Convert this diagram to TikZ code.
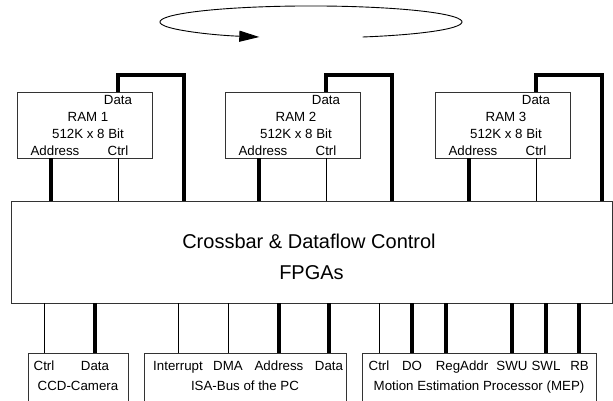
\documentclass[tikz,border=0pt]{standalone}
\usepackage{fontspec}
\setmainfont{Liberation Sans}
\usetikzlibrary{arrows.meta}
\begin{document}
\begin{tikzpicture}[x=1pt,y=-1pt,
  box/.style={draw=black!80, line width=0.9pt, inner sep=0pt, outer sep=0pt},
  bus/.style={line width=3.6pt, line join=miter, line cap=butt},
  sig/.style={line width=0.9pt},
  lbl/.style={anchor=base, inner sep=0pt, font=\fontsize{13.3}{16}\selectfont},
  big/.style={anchor=base, inner sep=0pt, font=\fontsize{20}{24}\selectfont}]
\useasboundingbox (0,0) rectangle (613,401);
\clip (0,0) rectangle (613,401);

% rotation loop
\draw[line width=0.9pt, -{Triangle[length=20pt,width=11pt]}]
  (362.6,37.0) arc[start angle=70, end angle=-250, x radius=151, y radius=16];

% crossbar
\node[box, minimum width=601pt, minimum height=102pt] (xbar) at (311.5,252) {};
\node[big] (t1) at (309,248) {Crossbar \& Dataflow Control};
\node[big] (t2) at (311.5,279) {FPGAs};

% RAMs
\foreach \i/\o in {1/0,2/208,3/418} {
  \node[box, minimum width=135pt, minimum height=66pt] (ram\i) at (84.5+\o,125) {};
  \coordinate (a\i) at (51+\o,0);
  \coordinate (c\i) at (118+\o,0);
  \coordinate (r\i) at (184+\o,0);
  \node[lbl] (rd\i) at (118+\o,105) {Data};
  \node[lbl] (rn\i) at (88+\o,121.7) {RAM \i};
  \node[lbl] (rs\i) at (88+\o,138.3) {512K x 8 Bit};
  \node[lbl] (ra\i) at (55+\o,155) {Address};
  \node[lbl] (rc\i) at (118+\o,155) {Ctrl};
  \draw[bus] (ram\i.south -| a\i) -- (xbar.north -| a\i);
  \draw[sig] (ram\i.south -| c\i) -- (xbar.north -| c\i);
  \draw[bus] (ram\i.north -| c\i) -- ++(0,-17) -| (xbar.north -| r\i);
}

% bottom boxes
\node[box, minimum width=100pt, minimum height=80pt, anchor=north] (ccd) at (78,353) {};
\node[box, minimum width=202pt, minimum height=80pt, anchor=north] (isa) at (245,353) {};
\node[box, minimum width=234pt, minimum height=80pt, anchor=north] (mep) at (479,353) {};

\foreach \x/\s/\b/\n in {44/sig/ccd/b1, 95/bus/ccd/b2,
   178/sig/isa/b3, 228/sig/isa/b4, 279/bus/isa/b5, 329/bus/isa/b6,
   379/sig/mep/b7, 412/bus/mep/b8, 446/bus/mep/b9,
   512/bus/mep/b10, 546/bus/mep/b11, 579/bus/mep/b12} {
  \coordinate (\n) at (\x,0);
  \draw[\s] (xbar.south -| \n) -- (\b.north -| \n);
}
\foreach \x/\t/\n in {44/Ctrl/l1, 95/Data/l2, 178/Interrupt/l3, 228/DMA/l4,
   279/Address/l5, 329/Data/l6, 379/Ctrl/l7, 412/DO/l8, 462/RegAddr/l9,
   512/SWU/l10, 546/SWL/l11, 579.5/RB/l12} {
  \node[lbl] (\n) at (\x,370) {\t};
}

\node[lbl] (ccdt) at (78,390) {CCD-Camera};
\node[lbl] (isat) at (245,390) {ISA-Bus of the PC};
\node[lbl] (mept) at (479,390) {Motion Estimation Processor (MEP)};
\end{tikzpicture}
\end{document}
